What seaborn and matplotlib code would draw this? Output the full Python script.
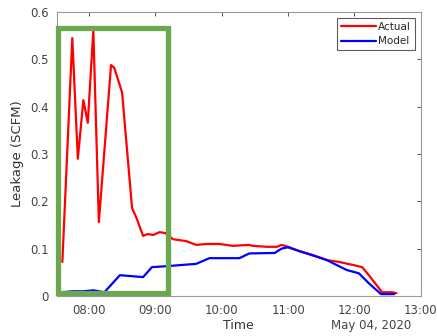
import matplotlib
matplotlib.use("Agg")
import matplotlib.pyplot as plt
import matplotlib.dates as mdates
from matplotlib.patches import Rectangle
import seaborn as sns
import pandas as pd

times_actual = ["07:36","07:45","07:50","07:55","07:59","08:04","08:09","08:20","08:23","08:30",
                "08:39","08:43","08:49","08:53","08:58","09:04","09:09","09:16","09:28","09:37",
                "09:46","09:58","10:10","10:25","10:28","10:41","10:50","10:54","11:00","11:10",
                "11:22","11:35","11:46","11:58","12:07","12:13","12:25","12:34","12:38"]
vals_actual = [0.072,0.545,0.29,0.414,0.366,0.562,0.156,0.488,0.482,0.43,
               0.186,0.165,0.127,0.131,0.129,0.135,0.133,0.12,0.116,0.108,
               0.11,0.11,0.106,0.108,0.106,0.104,0.104,0.108,0.104,0.095,
               0.087,0.076,0.072,0.066,0.061,0.044,0.008,0.008,0.006]

times_model = ["07:36","07:45","07:55","08:04","08:14","08:28","08:49","08:57","09:10","09:37",
               "09:49","10:16","10:25","10:48","10:54","11:00","11:10","11:26","11:35","11:40",
               "11:53","12:04","12:13","12:24","12:36"]
vals_model = [0.008,0.01,0.01,0.012,0.008,0.044,0.04,0.061,0.063,0.068,
              0.08,0.08,0.09,0.091,0.1,0.103,0.095,0.083,0.076,0.07,
              0.055,0.048,0.027,0.004,0.004]

xtick_labels = ["08:00","09:00","10:00","11:00","12:00","13:00"]
yticks = [0, 0.1, 0.2, 0.3, 0.4, 0.5, 0.6]
date_str = "2020-05-04"

def to_dt(ts):
    return pd.to_datetime([f"{date_str} {t}" for t in ts])

df = pd.concat([
    pd.DataFrame({"Time": to_dt(times_actual), "Leakage": vals_actual, "Series": "Actual"}),
    pd.DataFrame({"Time": to_dt(times_model), "Leakage": vals_model, "Series": "Model"}),
])

sns.set_theme(style="white")
plt.rcParams['font.family'] = ['DejaVu Sans']

fig = plt.figure(figsize=(4.37, 3.36), dpi=100)
ax = fig.add_axes([0.130, 0.119, 0.833, 0.845])

sns.lineplot(data=df, x="Time", y="Leakage", hue="Series",
             palette={"Actual": "#ff0000", "Model": "#0000ff"},
             linewidth=1.6, ax=ax, legend=True)

ax.set_xlim(pd.Timestamp(f"{date_str} 07:31"), pd.Timestamp(f"{date_str} 13:00"))
ax.set_ylim(0, 0.6)
ax.set_xticks(to_dt(xtick_labels))
ax.xaxis.set_major_formatter(mdates.DateFormatter("%H:%M"))
ax.set_yticks(yticks)
ax.set_yticklabels(["0", "0.1", "0.2", "0.3", "0.4", "0.5", "0.6"])

for s in ax.spines.values():
    s.set_color("#9a9a9a")
    s.set_linewidth(0.8)
ax.tick_params(direction="in", top=True, right=True, length=3, width=0.7,
               color="#555555", labelsize=8.5, labelcolor="#444444", pad=6)

ax.set_xlabel("")
ax.set_ylabel("Leakage (SCFM)", fontsize=9.5, color="#333333", labelpad=4)
fig.text(0.545, 0.012, "Time", ha="center", va="bottom", fontsize=9, color="#333333")
fig.text(0.94, 0.012, "May 04, 2020", ha="right", va="bottom", fontsize=8.5, color="#444444")

leg = ax.legend(loc="upper right", fontsize=7.5, frameon=True, fancybox=False,
                handlelength=3.4, borderpad=0.35, labelspacing=0.4, handletextpad=0.2,
                borderaxespad=0.6)
leg.get_frame().set_edgecolor("#333333")
leg.get_frame().set_linewidth(0.8)

rect = Rectangle((0.003, 0.01), 0.302, 0.935, transform=ax.transAxes, fill=False,
                 edgecolor="#6aa84f", linewidth=3.8, clip_on=False, zorder=5)
ax.add_patch(rect)

fig.savefig("out.png", dpi=100)
